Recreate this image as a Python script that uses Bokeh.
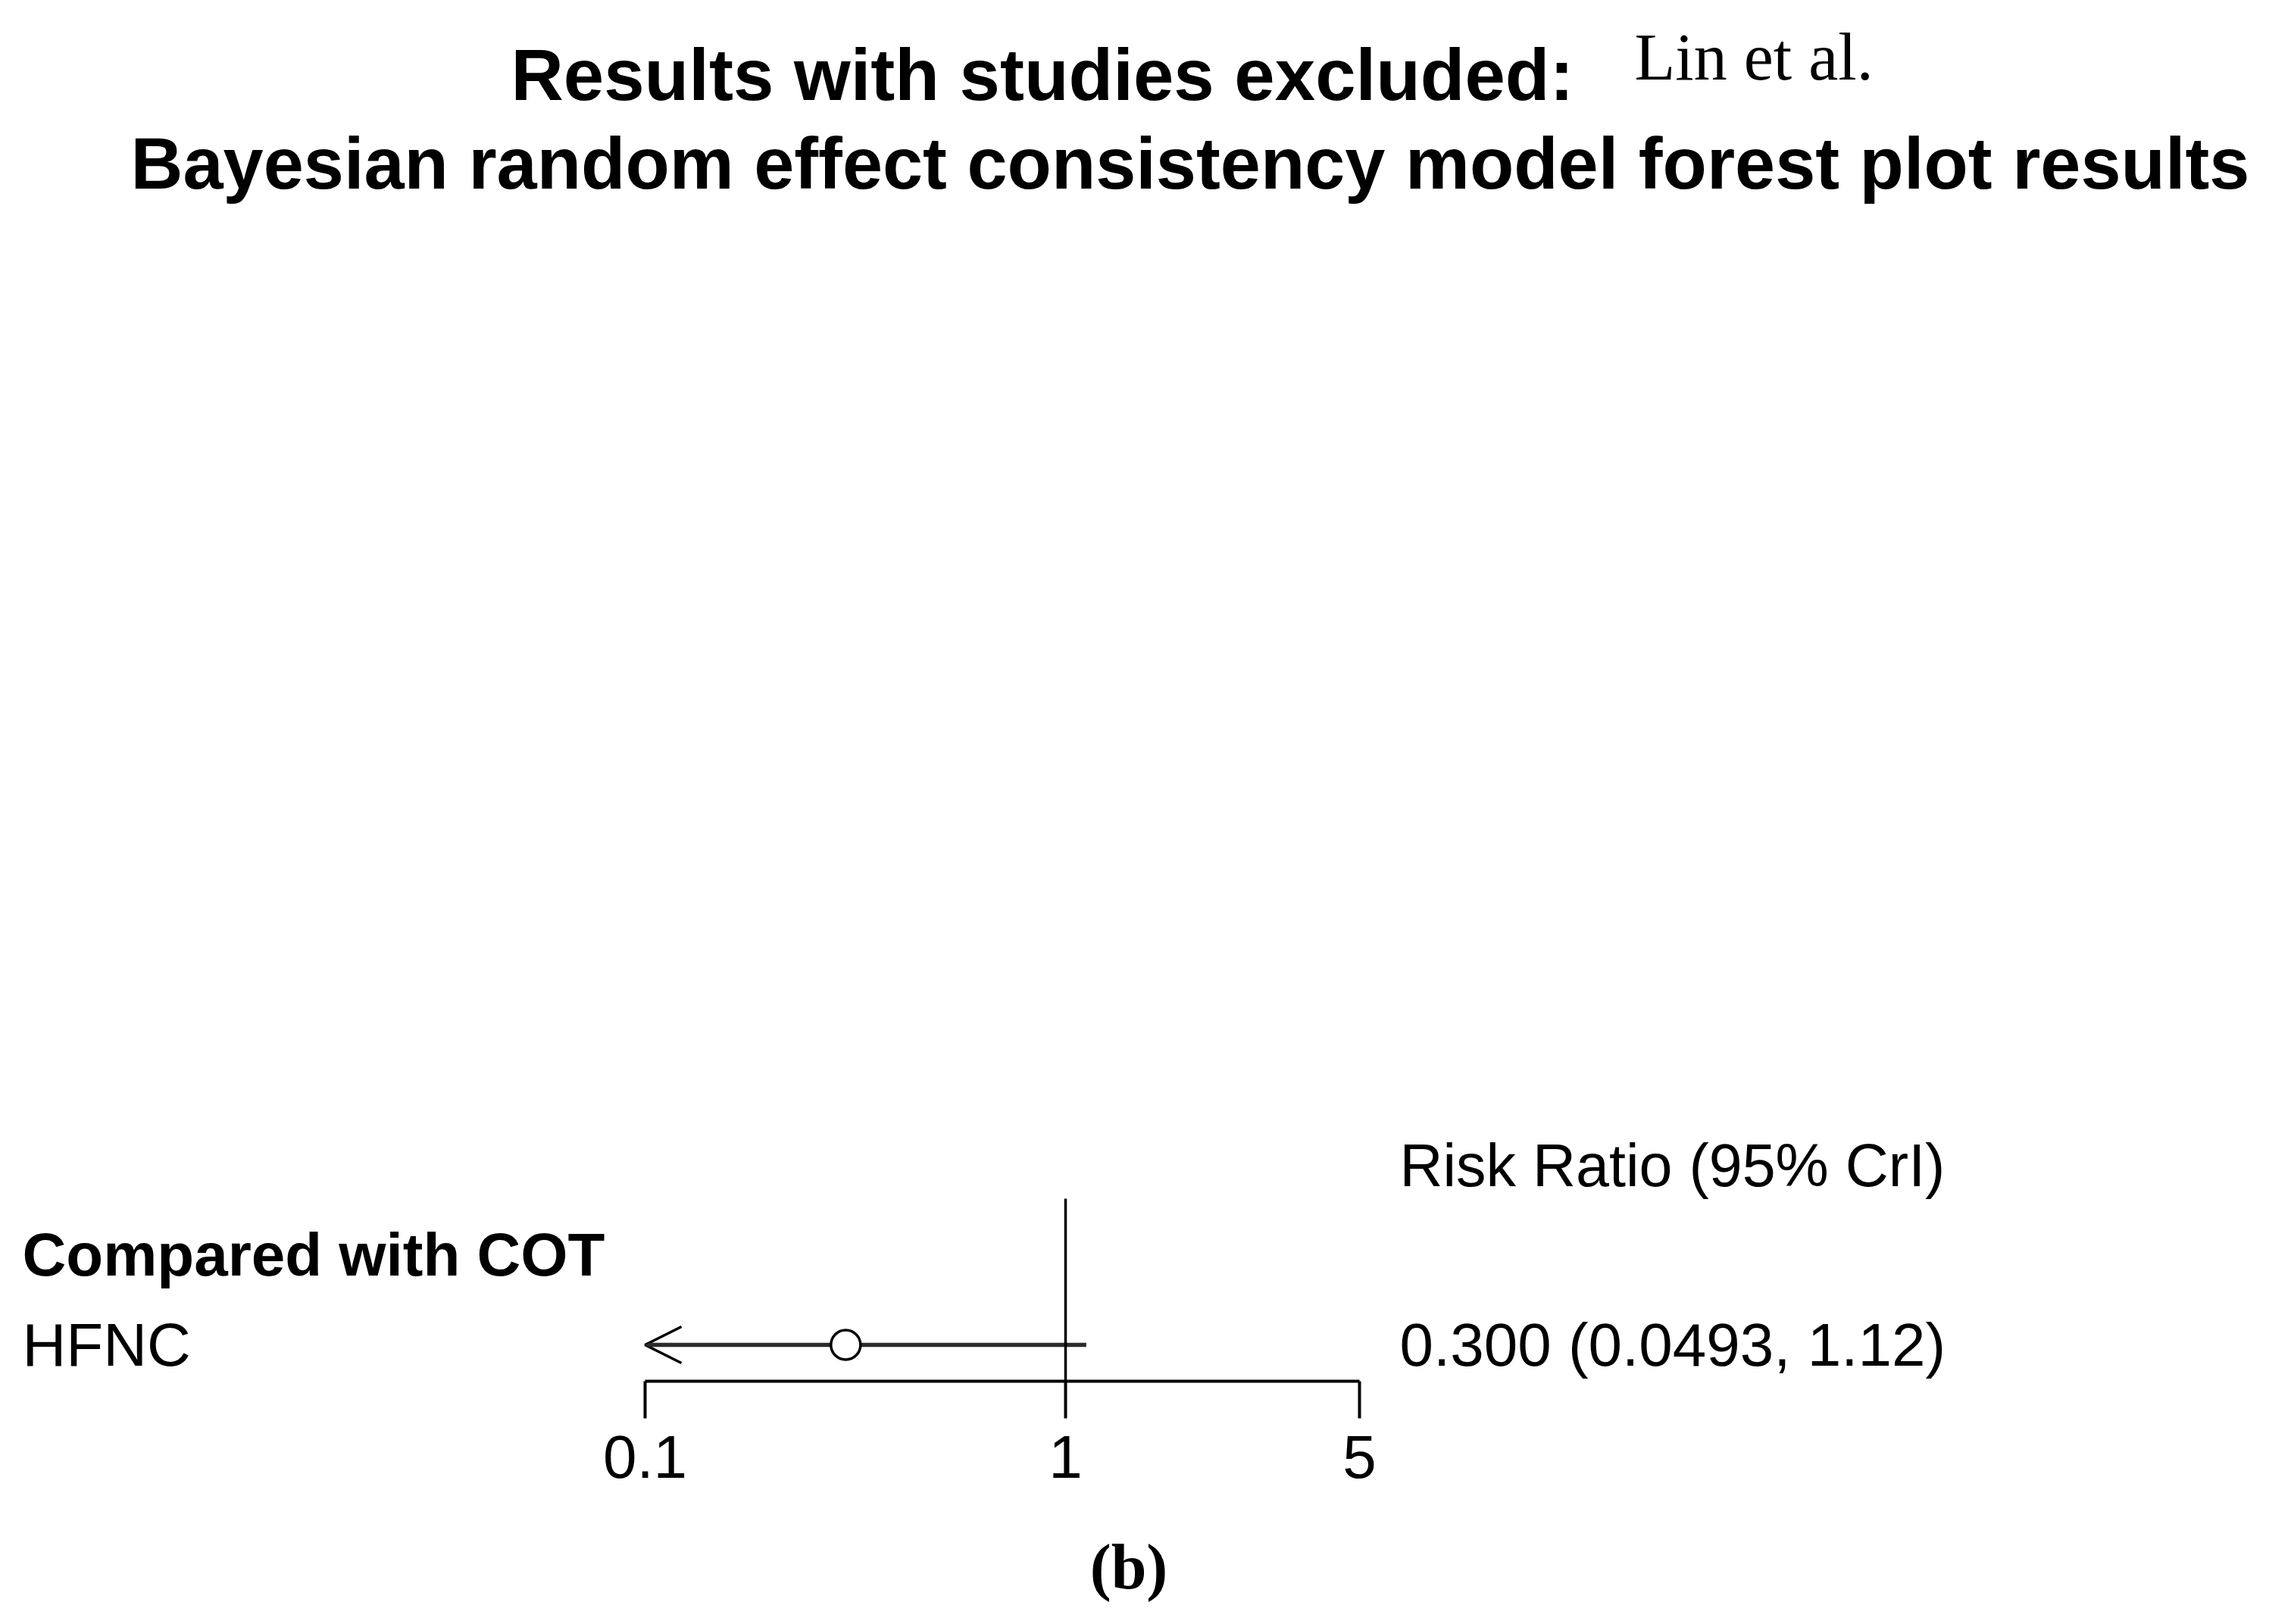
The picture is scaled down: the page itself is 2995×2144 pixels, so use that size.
from bokeh.plotting import figure
from bokeh.models import Range1d, FixedTicker, Arrow, OpenHead
from bokeh.core.properties import value
from bokeh.embed import file_html
from bokeh.resources import INLINE

# ---------------- data ----------------
title_line1 = "Results with studies excluded:"
title_note = "Lin et al."
title_line2 = "Bayesian random effect consistency model forest plot results"
group_label = "Compared with COT"
column_header = "Risk Ratio (95% CrI)"
treatments = ["HFNC"]
risk_ratio = [0.300]
cri_lower = [0.0493]
cri_upper = [1.12]
tick_values = [0.1, 1, 5]
tick_labels = ["0.1", "1", "5"]
panel_label = "(b)"

# ---------------- layout ----------------
W, H = 2979, 2128
OFF = 0                 # page offset of the canvas
X_ONE = 1406            # pixel of RR = 1
DECADE = 555            # pixels per decade
AXIS_Y = 1823           # pixel of axis line
VLINE_TOP = 1582
ROW0_Y = 1775
ROW_STEP = 119
FRAME_BOTTOM = AXIS_Y - OFF

SANS = value("Liberation Sans")
SERIF = value("Liberation Serif")


def px_to_x(px):
    return 10 ** ((px - X_ONE) / DECADE)


p = figure(frame_width=W, frame_height=FRAME_BOTTOM, x_axis_type="log",
           x_range=Range1d(px_to_x(OFF), px_to_x(OFF + W)),
           y_range=Range1d(AXIS_Y, OFF),
           y_axis_location=None, toolbar_location=None,
           output_backend="svg",
           min_border_left=0, min_border_right=0, min_border_top=0,
           min_border_bottom=H - FRAME_BOTTOM)
p.xgrid.visible = False
p.ygrid.visible = False
p.outline_line_color = None
p.background_fill_color = "white"
p.border_fill_color = "white"

# axis
ax = p.xaxis[0]
ax.ticker = FixedTicker(ticks=tick_values, minor_ticks=[])
ax.bounds = (tick_values[0], tick_values[-1])
ax.major_label_overrides = {v: l for v, l in zip(tick_values, tick_labels)}
ax.major_tick_out = 49
ax.major_tick_in = 0
ax.minor_tick_out = 0
ax.minor_tick_in = 0
ax.axis_line_width = 4
ax.axis_line_color = "black"
ax.major_tick_line_width = 4
ax.major_tick_line_color = "black"
ax.major_label_text_font = "Liberation Sans"
ax.major_label_text_font_size = "80px"
ax.major_label_text_color = "black"
ax.major_label_standoff = 23
ax.axis_label = panel_label
ax.axis_label_text_font = "Liberation Serif"
ax.axis_label_text_font_style = "bold"
ax.axis_label_text_font_size = "84px"
ax.axis_label_text_color = "black"
ax.axis_label_standoff = 68

# reference line at RR = 1
p.segment(x0=[1], y0=[VLINE_TOP], x1=[1], y1=[AXIS_Y],
          line_width=3.5, line_color="black")

row_y = [ROW0_Y + i * ROW_STEP for i in range(len(treatments))]
xmin, xmax = tick_values[0], tick_values[-1]

for est, lo, hi, y in zip(risk_ratio, cri_lower, cri_upper, row_y):
    lo_c = max(lo, xmin)
    hi_c = min(hi, xmax)
    if lo < xmin:
        arr = Arrow(end=OpenHead(size=48, line_width=3.5, line_color="black"),
                    x_start=hi_c, y_start=y, x_end=xmin, y_end=y,
                    line_width=5.5, line_color="#2b2b2b", level="underlay")
        p.add_layout(arr)
    else:
        p.segment(x0=[lo_c], y0=[y], x1=[hi_c], y1=[y],
                  line_width=5.5, line_color="#2b2b2b")

p.scatter(x=risk_ratio, y=row_y, size=39, marker="circle",
          fill_color="white", line_color="black", line_width=3.5)

# texts (y = vertical middle of the text line)
common = dict(text_color="black", text_baseline="middle", text_align="left")
p.text(x=[px_to_x(674)], y=[98], text=[title_line1], text_font=SANS,
       text_font_style="bold", text_font_size="96px", **common)
p.text(x=[px_to_x(2157)], y=[75], text=[title_note], text_font=SERIF,
       text_font_size="88px", **common)
p.text(x=[px_to_x(172)], y=[215], text=[title_line2], text_font=SANS,
       text_font_style="bold", text_font_size="95.5px", **common)

p.text(x=[px_to_x(1847)], y=[1538], text=[column_header], text_font=SANS,
       text_font_size="79px", **common)
p.text(x=[px_to_x(29)], y=[ROW0_Y - 119], text=[group_label], text_font=SANS,
       text_font_style="bold", text_font_size="80px", **common)

ci_text = [f"{e:#.3g} ({l:#.3g}, {h:#.3g})" for e, l, h in zip(risk_ratio, cri_lower, cri_upper)]
p.text(x=[px_to_x(29)] * len(treatments), y=row_y, text=treatments,
       text_font=SANS, text_font_size="80px", **common)
p.text(x=[px_to_x(1847)] * len(treatments), y=row_y, text=ci_text,
       text_font=SANS, text_font_size="80px", **common)

open("out.html", "w").write(file_html(p, INLINE))
